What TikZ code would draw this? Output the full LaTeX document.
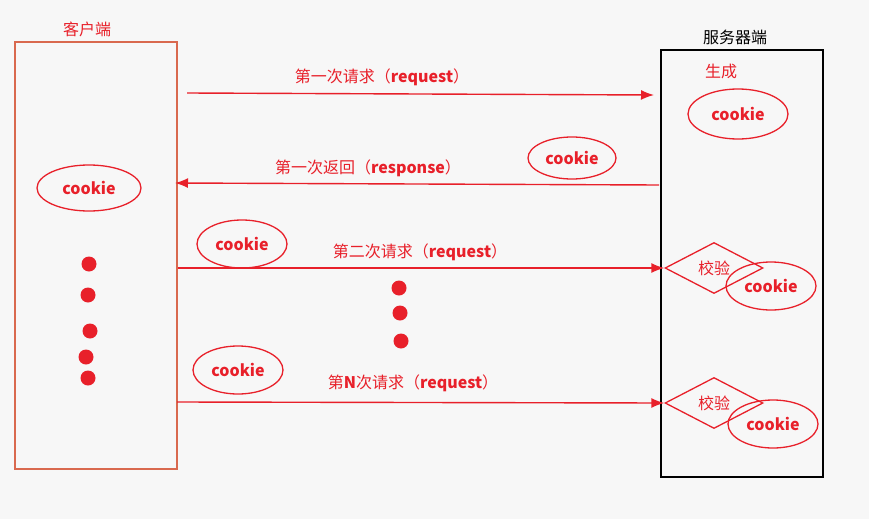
\documentclass[tikz,border=0pt]{standalone}
\usepackage{fontspec}
\setmainfont{Noto Sans CJK SC}
\usetikzlibrary{arrows.meta,shapes.geometric}
\definecolor{cred}{HTML}{E8202A}
\definecolor{cbox}{HTML}{D9694F}
\definecolor{cbg}{HTML}{F7F7F7}
\tikzset{
  cookie/.style={draw=cred, line width=1.3pt, ellipse, minimum width=90pt, minimum height=48pt, inner sep=0pt, text=cred, font=\fontsize{16}{19}\selectfont\bfseries},
  reqarrow/.style={draw=cred, line width=1.4pt, -{Latex[length=13pt,width=10pt]}},
  reqlabel/.style={text=cred, font=\fontsize{16}{19}\selectfont},
  reddot/.style={circle, fill=cred, minimum size=15pt, inner sep=0pt},
  check/.style={diamond, draw=cred, line width=1.3pt, aspect=2, minimum width=98pt, minimum height=51pt, inner sep=0pt, text=cred, font=\fontsize{16}{19}\selectfont}
}
\begin{document}
\begin{tikzpicture}[x=1pt, y=-1pt]
    \fill[cbg] (0,0) rectangle (869,519);
    \useasboundingbox (0,0) rectangle (869,519);

    % Nodes
    \node[draw=cbox, line width=1.5pt, minimum width=162pt, minimum height=427pt, inner sep=0pt] (client) at (96,255.5) {};
    \node[draw=black, line width=1.5pt, minimum width=162pt, minimum height=427pt, inner sep=0pt] (server) at (742,263.5) {};
    \node[reqlabel] (clientlabel) at (87,29) {客户端};
    \node[font=\fontsize{16}{19}\selectfont] (serverlabel) at (735,37) {服务器端};
    \node[reqlabel] (gen) at (721,71) {生成};

    \node[cookie, minimum width=104pt, minimum height=46pt] (ccookie) at (89,188) {cookie};
    \node[cookie, minimum width=100pt, minimum height=50pt] (scookie) at (738,114) {cookie};
    \node[cookie, minimum width=88pt, minimum height=42pt] (rcookie) at (572,158) {cookie};
    \node[cookie] (req2cookie) at (242,244) {cookie};
    \node[cookie] (reqNcookie) at (238,370) {cookie};

    \node[check] (check1) at (714,268) {校验};
    \node[cookie] (check1cookie) at (771,286) {cookie};
    \node[check] (check2) at (714,403) {校验};
    \node[cookie] (check2cookie) at (773,424) {cookie};

    % Dots
    \foreach \x/\y [count=\i] in {89/264, 88/295, 90/331, 86/357, 88/378}
        \node[reddot] (cdot\i) at (\x,\y) {};
    \foreach \x/\y [count=\i] in {399/288, 400/313, 401/341}
        \node[reddot] (mdot\i) at (\x,\y) {};

    % Arrows
    \coordinate (req1s) at (187,93);
    \coordinate (req1e) at (654,95);
    \coordinate (resp1s) at (659,185);
    \coordinate (resp1e) at (175,183);
    \coordinate (reqNs) at (177,402);
    \draw[reqarrow] (req1s) -- (req1e);
    \draw[reqarrow] (resp1s) -- (resp1e);
    \draw[reqarrow] (client.east |- check1.west) -- (check1.west);
    \draw[reqarrow] (reqNs) -- (check2.west);

    % Labels
    \node[reqlabel] (req1label) at (382,77) {第一次请求（\textbf{request}）};
    \node[reqlabel] (resp1label) at (368,168) {第一次返回（\textbf{response}）};
    \node[reqlabel] (req2label) at (420,252) {第二次请求（\textbf{request}）};
    \node[reqlabel] (reqNlabel) at (413,383) {第\textbf{N}次请求（\textbf{request}）};
\end{tikzpicture}
\end{document}
